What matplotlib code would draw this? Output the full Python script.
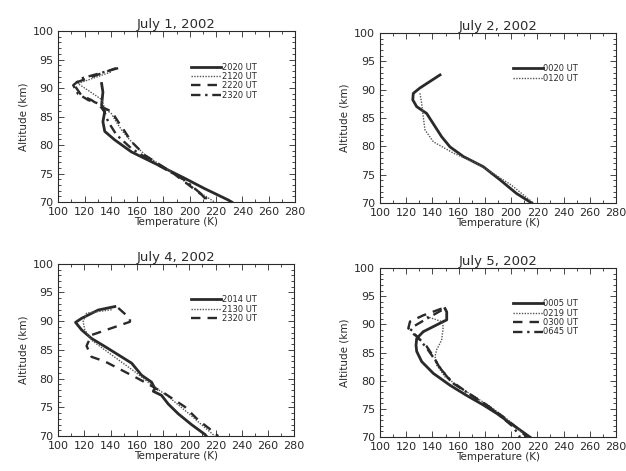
import numpy as np, matplotlib
matplotlib.use("Agg")
import matplotlib.pyplot as plt
from matplotlib.ticker import MultipleLocator

# July 1, 2002
j1_labels = ['2020 UT', '2120 UT', '2220 UT', '2320 UT']
j1_t = [
    [133, 134, 133, 135.4, 134, 135.4, 143, 155.7, 176, 196, 211, 229, 232],
    [140, 115, 133, 135.4, 140.5, 144, 149, 154.4, 166, 186, 209, 219],
    [144, 111.4, 117.7, 125.3, 133, 140.5, 145.6, 150.6, 155.7, 166, 186, 209, 214],
    [145.6, 117.7, 111.4, 115, 122.8, 130.4, 135, 138, 144.3, 155.7, 175, 196, 216],
]
j1_z = [
    [90.8, 89.3, 87, 85.9, 84.1, 82.4, 80.9, 78.8, 76.5, 74.2, 72.4, 70.4, 70],
    [92.8, 90.8, 88, 86.4, 85.5, 84.1, 82.4, 80.9, 78.3, 75.3, 71.5, 70],
    [93.5, 90.8, 88.7, 87.9, 86.7, 85.9, 84.1, 82.4, 80.6, 78.2, 75.3, 71.3, 70.1],
    [93.5, 91.7, 90.5, 89, 87.9, 87.3, 85.9, 84.1, 81.8, 79.4, 76.6, 73.9, 70],
]

# July 2, 2002
j2_labels = ['0020 UT', '0120 UT']
j2_t = [
    [145.8, 130.5, 125.4, 125, 128, 135.6, 142, 147, 153.4, 163.6, 178.8, 191.5, 204, 215.7],
    [130.5, 131.8, 133, 134.3, 140.7, 156, 173.7, 186.4, 200, 217],
]
j2_z = [
    [92.6, 90.3, 89.35, 88.2, 87, 85.8, 83.5, 81.7, 79.9, 78.2, 76.4, 74.1, 71.7, 70],
    [89.35, 87.6, 85.2, 82.9, 80.8, 78.8, 77, 75.2, 73.2, 70],
]

# July 4, 2002
j4_labels = ['2014 UT', '2130 UT', '2320 UT']
j4_t = [
    [143.2, 130.5, 117.8, 113.2, 117.8, 125.4, 135.6, 148.3, 156, 163.6, 171.2,
     173.7, 172.5, 178.8, 183.9, 191.5, 201.7, 211.9, 213],
    [140.7, 121.6, 119, 120.3, 125.4, 135.6, 145.8, 158.5, 171.2, 183.9, 199.2, 209.3, 219.5],
    [145.8, 154.7, 154.7, 125.4, 121.6, 125.4, 135.6, 148.3, 161, 169.9, 181.4,
     196.6, 206.8, 217, 222],
]
j4_z = [
    [92.55, 91.95, 90.5, 89.8, 88.5, 87, 85.6, 83.8, 82.7, 80.6, 79.4,
     78.3, 77.8, 77.1, 75.6, 73.9, 72, 70.3, 70],
    [92, 91.4, 89.9, 88.5, 86.7, 85, 83.3, 81.2, 78.9, 76.9, 74, 72, 70],
    [92.3, 90.5, 89.9, 87.6, 85.7, 83.8, 83, 81.5, 80, 78.9, 77.4,
     75.1, 72.8, 71, 70],
]

# July 5, 2002
j5_labels = ['0005 UT', '0219 UT', '0300 UT', '0645 UT']
j5_t = [
    [149.6, 150.9, 150.9, 143.2, 133, 128, 127.5, 128, 131.8, 140.7, 153.4,
     166, 178.8, 189, 201.7, 214.4],
    [135.6, 147, 148.3, 147, 143.2, 142, 143.2, 149.6, 165, 183, 198, 212],
    [147, 133, 122.9, 121.6, 128, 135.6, 140.7, 145.8, 153.4, 166, 181.4, 194, 206.8, 212],
    [147, 135.6, 125.4, 122.9, 128, 135.6, 142, 147, 156, 171.2, 186.4, 201.7, 206.8],
]
j5_z = [
    [92.8, 92.2, 90.8, 89.9, 88.7, 87.5, 86.3, 85.2, 83.4, 81.3, 79.2,
     77.4, 75.7, 74.2, 72.1, 70],
    [91.4, 90.5, 89.6, 87.2, 85.5, 84.3, 82.8, 80.7, 78.2, 75.6, 73, 70],
    [92.8, 91.6, 90.5, 89.3, 87.9, 86.1, 84.3, 82.2, 80.1, 78, 75.7, 73.6, 71.2, 70],
    [92.5, 91, 89.6, 88.7, 87.9, 85.8, 83.7, 81.9, 79.5, 77.2, 74.8, 71.8, 70],
]

styles = [
    dict(ls='-', lw=2.0),
    dict(ls=(0, (1, 1)), lw=1.0, color='#555555'),
    dict(ls=(0, (4, 3)), lw=1.7),
    dict(ls=(0, (4, 2, 1, 2)), lw=1.7),
]

panels = [
    ('July 1, 2002', j1_labels, j1_t, j1_z, [0.093, 0.571, 0.378, 0.363]),
    ('July 2, 2002', j2_labels, j2_t, j2_z, [0.607, 0.569, 0.377, 0.361]),
    ('July 4, 2002', j4_labels, j4_t, j4_z, [0.093, 0.074, 0.377, 0.366]),
    ('July 5, 2002', j5_labels, j5_t, j5_z, [0.607, 0.072, 0.377, 0.359]),
]

ink = '#2a2a2a'
fig = plt.figure(figsize=(6.26, 4.71), dpi=100)
for title, labels, ts, zs, pos in panels:
    ax = fig.add_axes(pos)
    for lab, t, z, st in zip(labels, ts, zs, styles):
        kw = dict(st)
        kw.setdefault('color', ink)
        ax.plot(t, z, label=lab, **kw)
    ax.set_xlim(100, 280)
    ax.set_ylim(70, 100)
    ax.xaxis.set_major_locator(MultipleLocator(20))
    ax.xaxis.set_minor_locator(MultipleLocator(10))
    ax.yaxis.set_major_locator(MultipleLocator(5))
    ax.yaxis.set_minor_locator(MultipleLocator(1))
    ax.tick_params(which='both', direction='in', top=True, right=True,
                   colors=ink, labelsize=8, width=0.6)
    ax.tick_params(which='major', length=4)
    ax.tick_params(which='minor', length=2)
    for s in ax.spines.values():
        s.set_color(ink)
        s.set_linewidth(0.8)
    ax.set_title(title, fontsize=9.5, color=ink, pad=2)
    ax.set_xlabel('Temperature (K)', fontsize=7.5, color=ink, labelpad=0)
    ax.set_ylabel('Altitude (km)', fontsize=7.5, color=ink, labelpad=3)
    ax.legend(loc='upper left', bbox_to_anchor=(0.53, 0.86), frameon=False,
              fontsize=6, handlelength=3.6, handletextpad=0.1,
              labelspacing=0.05, labelcolor=ink)

fig.savefig('out.png', dpi=100)
print('saved out.png')
